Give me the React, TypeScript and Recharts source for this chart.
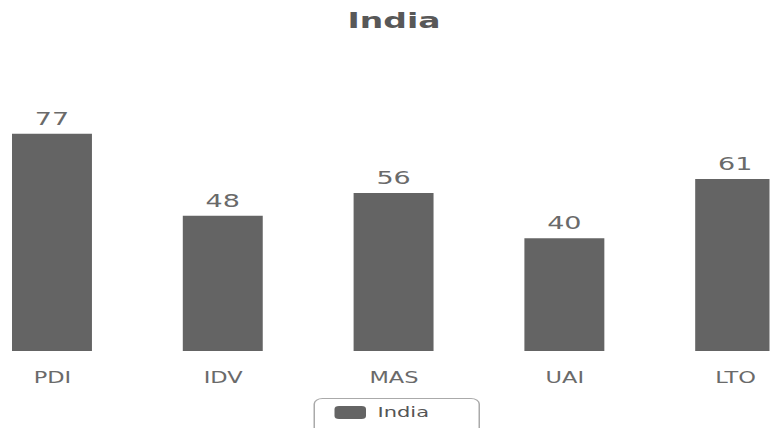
import { BarChart, Bar, XAxis, YAxis, LabelList } from "recharts";

const dimensions = ["PDI", "IDV", "MAS", "UAI", "LTO"];
const indiaScores = [77, 48, 56, 40, 61];

const data = dimensions.map((dim, i) => ({ dim, India: indiaScores[i] }));

// the reference is stretched sideways, so draw narrow and scale x
const SX = 1.5;
const W = 770 / SX;
const FONT = "'DejaVu Sans', Verdana, sans-serif";

export default function App() {
  return (
    <div style={{ position: "absolute", left: 0, top: 0, width: 770, height: 428, overflow: "hidden", background: "#fff" }}>
      <div style={{ position: "relative", width: W, height: 428, transform: `scaleX(${SX})`, transformOrigin: "0 0", fontFamily: FONT }}>
        <div style={{ position: "absolute", top: 8, left: 0, width: W + 12, textAlign: "center", fontSize: 22, fontWeight: "bold", color: "#585858" }}>
          India
        </div>
        <BarChart width={W} height={428} data={data} margin={{ top: 69, right: -34, bottom: 47, left: -22 }}>
          <XAxis dataKey="dim" axisLine={false} tickLine={false} tickMargin={15} height={30} tick={{ fill: "#6a6a6a", fontSize: 15, fontFamily: FONT }} />
          <YAxis hide domain={[0, 100]} />
          <Bar dataKey="India" fill="#646464" barSize={53.3} isAnimationActive={false}>
            <LabelList dataKey="India" position="top" offset={9} fill="#6a6a6a" fontSize={18} fontFamily={FONT} />
          </Bar>
        </BarChart>
        <div style={{ position: "absolute", top: 398, left: 208.7, width: 111, height: 40, border: "1px solid #aaa", borderRadius: 6, boxSizing: "border-box" }}>
          <div style={{ position: "absolute", left: 13, top: 7, width: 21, height: 13, background: "#646464", borderRadius: 3 }} />
          <div style={{ position: "absolute", left: 42, top: 5, fontSize: 14, color: "#555" }}>India</div>
        </div>
      </div>
    </div>
  );
}
